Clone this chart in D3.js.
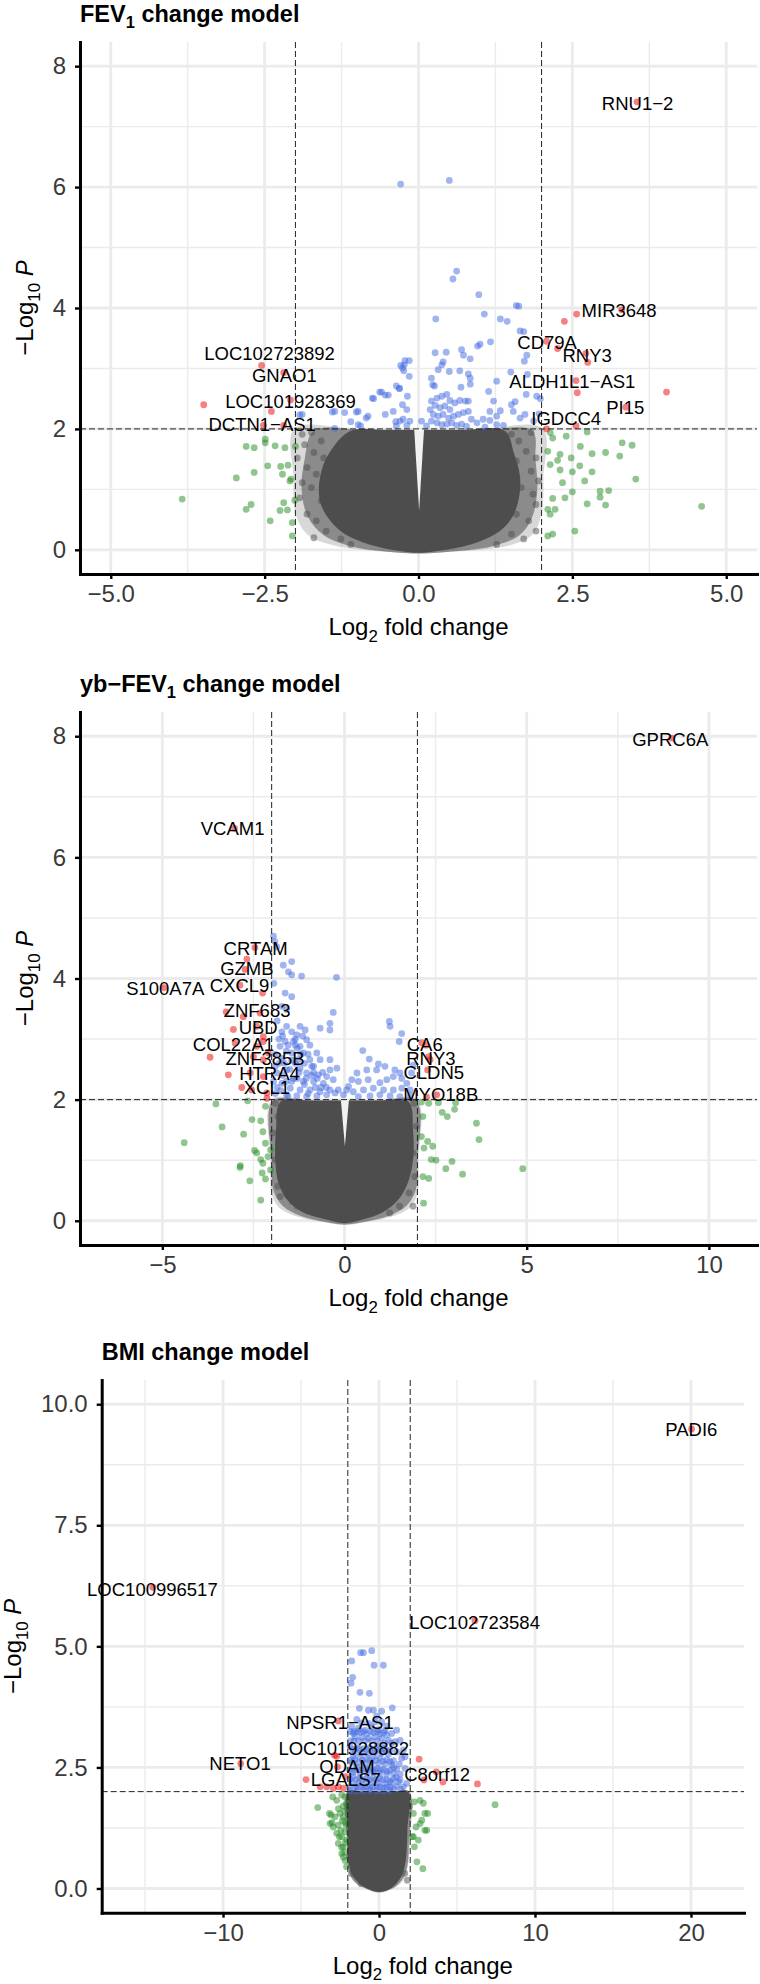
<!DOCTYPE html>
<html><head><meta charset="utf-8">
<script src="https://cdn.jsdelivr.net/npm/d3@7"></script>
<style>body{margin:0;background:#fff}</style>
</head><body>
<svg id="c" width="760" height="1984" xmlns="http://www.w3.org/2000/svg"></svg>
<script>
// ---------------- DATA (log2 fold change, -log10 P) ----------------
// Panel 1: FEV1 change model
const fev_xticks = [-5, -2.5, 0, 2.5, 5];
const fev_xtick_labels = ["−5.0", "−2.5", "0.0", "2.5", "5.0"];
const fev_yticks = [0, 2, 4, 6, 8];
const fev_ytick_labels = ["0", "2", "4", "6", "8"];
// outlines of the dense cloud of non-significant genes (core = overplotted, mid/halo = sparser edge)
const fev_gray_core = [[-1.1,1.97],[-1.45,1.6],[-1.6,1.2],[-1.6,0.8],[-1.45,0.5],[-1.2,0.26],[-0.8,0.09],[-0.3,-0.02],[0,-0.05],[0.3,-0.02],[0.85,0.09],[1.25,0.26],[1.5,0.5],[1.62,0.8],[1.65,1.2],[1.55,1.6],[1.4,1.97],[0.7,1.98],[0,1.98],[-0.5,1.98]];
const fev_gray_mid = [[-1.7,1.97],[-1.85,1.5],[-1.9,1.0],[-1.8,0.55],[-1.55,0.25],[-1.1,0.06],[-0.5,-0.03],[0,-0.06],[0.5,-0.03],[1.2,0.06],[1.65,0.25],[1.85,0.55],[1.93,1.0],[1.9,1.5],[1.85,1.97],[1.0,1.98],[0,1.98],[-0.9,1.98]];
const fev_gray_halo = [[-2.02,2.0],[-2.03,1.2],[-2.0,0.6],[-1.8,0.25],[-1.4,0.08],[-0.9,0.0],[-0.4,-0.04],[0,-0.06],[0.4,-0.04],[1.0,0.0],[1.5,0.08],[1.85,0.25],[2.0,0.6],[2.03,1.2],[2.02,2.0],[1.0,2.0],[0,2.0],[-1.0,2.0]];
const fev_gray_gap = [[-0.07,2.0],[0.01,0.65],[0.09,2.0]];
const fev_gray = [[-1.89,1.91],[-1.74,1.94],[-1.85,1.74],[-1.58,1.80],[-1.70,1.61],[-1.54,1.52],[-1.97,1.52],[-1.81,1.36],[-1.66,1.25],[-1.89,1.11],[-1.74,1.03],[-1.93,0.86],[-1.58,0.81],[-1.81,0.59],[-1.66,0.48],[-1.70,0.20],[-1.50,0.31],[-1.26,0.18],[-1.10,0.09],[1.51,1.91],[1.63,1.80],[1.83,1.94],[1.75,1.63],[1.91,1.52],[1.59,1.47],[1.83,1.30],[1.95,1.14],[1.67,1.03],[1.86,0.92],[1.91,0.75],[1.59,0.59],[1.79,0.48],[1.91,0.31],[1.71,0.18],[1.51,0.26],[1.27,0.09]];
const fev_green = [[-2.49,1.83],[-2.49,1.77],[-2.80,1.71],[-2.67,1.69],[-2.33,1.72],[-2.17,1.69],[-2.00,1.71],[-2.45,1.39],[-2.24,1.38],[-2.12,1.40],[-2.67,1.28],[-2.96,1.19],[-2.21,1.25],[-2.07,1.17],[-2.09,1.14],[-3.84,0.84],[-2.72,0.75],[-2.80,0.67],[-2.41,0.48],[-2.25,0.65],[-2.13,0.66],[-2.01,0.82],[-2.05,0.45],[-2.05,0.23],[-2.19,0.78],[2.14,1.94],[2.18,1.85],[2.40,1.88],[2.63,1.71],[2.74,1.95],[3.31,1.77],[3.47,1.73],[2.10,1.63],[2.30,1.58],[2.82,1.59],[3.04,1.61],[3.27,1.55],[2.48,1.52],[2.26,1.48],[2.14,1.41],[2.62,1.39],[2.30,1.32],[2.50,1.29],[2.82,1.29],[3.53,1.17],[2.70,1.14],[2.34,1.11],[2.95,0.97],[3.09,0.98],[2.50,0.96],[2.38,0.86],[2.18,0.85],[2.95,0.87],[2.74,0.76],[3.04,0.74],[2.22,0.67],[2.10,0.67],[4.60,0.72],[2.54,0.31],[2.18,0.26],[2.10,0.23],[2.14,0.59]];
const fev_blue = [[0.62,4.61],[0.56,4.48],[0.98,4.22],[1.59,4.04],[0.28,3.82],[1.07,3.90],[1.33,3.82],[1.44,3.78],[1.65,3.62],[1.17,3.44],[1.00,3.40],[0.96,3.37],[0.70,3.31],[0.45,3.27],[0.27,3.26],[0.73,3.22],[0.84,3.16],[0.40,3.11],[0.38,3.06],[0.32,2.98],[0.50,2.95],[0.67,2.96],[0.81,2.91],[0.84,2.84],[0.21,2.84],[0.23,2.73],[0.26,2.71],[0.69,2.69],[0.84,2.74],[1.27,2.79],[1.50,2.94],[1.76,3.22],[1.72,3.12],[1.77,2.90],[1.92,2.54],[1.75,2.57],[1.57,2.45],[1.51,2.40],[1.14,2.62],[1.22,2.46],[-0.22,3.13],[-0.29,3.05],[-0.24,2.96],[-0.15,2.87],[-0.36,2.71],[-0.31,2.67],[-0.63,2.61],[-0.54,2.56],[-0.75,2.51],[-0.18,2.54],[-0.26,2.40],[-0.19,2.32],[-0.41,2.29],[-0.54,2.24],[-1.01,2.28],[-0.85,2.18],[-1.40,2.28],[-1.93,2.23],[-0.98,2.07],[-1.36,2.01],[-0.37,2.12],[-0.25,2.16],[-0.14,2.13],[0.21,2.46],[0.30,2.51],[0.38,2.54],[0.46,2.57],[0.51,2.47],[0.27,2.39],[0.35,2.35],[0.43,2.38],[0.51,2.32],[0.59,2.43],[0.67,2.47],[0.76,2.46],[0.81,2.46],[0.19,2.32],[0.24,2.24],[0.32,2.21],[0.40,2.24],[0.49,2.18],[0.57,2.21],[0.65,2.24],[0.73,2.27],[0.81,2.29],[0.21,2.13],[0.30,2.10],[0.38,2.07],[0.46,2.08],[0.54,2.10],[0.62,2.06],[0.70,2.08],[0.78,2.04],[0.86,2.16],[0.95,2.10],[1.05,2.16],[1.16,2.29],[1.27,2.21],[1.33,2.30],[1.38,2.06],[1.16,2.14],[1.27,2.07],[1.08,2.03],[0.13,2.05],[0.05,2.13],[-0.30,2.13],[-0.19,2.06],[-0.36,2.05],[1.54,2.29],[1.65,2.18],[1.73,2.24],[1.87,2.13],[-0.29,6.05],[0.50,6.11],[-0.73,2.50],[-0.60,2.61],[-0.49,2.56],[-0.31,2.67],[-0.23,3.06],[-0.15,3.13],[-0.26,3.01],[-0.82,2.21],[-0.94,2.05],[-1.36,2.29],[-1.20,2.27],[-1.10,2.12],[-1.89,2.24],[-0.98,2.29],[1.71,3.61],[1.63,4.03],[1.98,2.50],[1.96,2.25]];
const fev_red = [[3.55,7.41],[2.37,3.78],[2.57,3.90],[3.30,3.97],[-2.55,3.05],[-2.19,2.93],[-3.49,2.40],[-2.39,2.29],[-2.08,2.48],[-2.52,2.06],[-2.19,2.06],[2.08,3.45],[2.26,3.33],[2.75,3.10],[2.72,3.25],[2.56,2.80],[2.58,2.60],[4.03,2.61],[3.37,2.36],[2.08,2.00],[2.56,2.05]];
const fev_labels = [["RNU1−2",3.56,7.38],["MIR3648",3.26,3.96],["LOC102723892",-2.42,3.25],["GNAO1",-2.18,2.89],["LOC101928369",-2.08,2.46],["DCTN1−AS1",-2.54,2.07],["CD79A",2.09,3.44],["RNY3",2.74,3.21],["ALDH1L1−AS1",2.50,2.79],["PI15",3.36,2.36],["IGDCC4",2.40,2.17]];

// Panel 2: yb-FEV1 change model
const yb_xticks = [-5, 0, 5, 10];
const yb_xtick_labels = ["−5", "0", "5", "10"];
const yb_yticks = [0, 2, 4, 6, 8];
const yb_ytick_labels = ["0", "2", "4", "6", "8"];
const yb_gray_core = [[-1.75,1.97],[-1.88,1.5],[-1.9,1.0],[-1.8,0.6],[-1.55,0.33],[-1.15,0.14],[-0.5,0.02],[0,-0.04],[0.5,0.02],[1.05,0.14],[1.45,0.33],[1.72,0.6],[1.88,1.0],[1.88,1.5],[1.75,1.97],[0.9,1.98],[0,1.98],[-0.9,1.98]];
const yb_gray_mid = [[-1.97,1.98],[-2.0,1.0],[-1.95,0.5],[-1.7,0.25],[-1.2,0.08],[-0.5,-0.02],[0,-0.06],[0.5,-0.02],[1.2,0.08],[1.7,0.25],[1.95,0.5],[2.0,1.0],[1.97,1.98],[1.0,1.99],[0,1.99],[-1.0,1.99]];
const yb_gray_halo = [[-2.0,2.0],[-2.03,1.0],[-2.0,0.45],[-1.8,0.22],[-1.3,0.07],[-0.6,-0.02],[0,-0.07],[0.6,-0.02],[1.3,0.07],[1.8,0.22],[2.0,0.45],[2.03,1.0],[2.0,2.0],[1.0,2.0],[0,2.0],[-1.0,2.0]];
const yb_gray_gap = [[-0.1,2.0],[0.01,1.23],[0.12,2.0]];
const yb_gray = [[-1.90,1.94],[-1.70,1.86],[-1.83,1.72],[-1.57,1.78],[-1.97,1.45],[-1.77,1.34],[-1.90,1.01],[-1.70,0.79],[-1.83,0.57],[-1.57,0.43],[-1.30,0.24],[-1.77,0.40],[-1.43,0.32],[1.91,1.94],[1.77,1.78],[1.97,1.56],[1.71,1.45],[1.88,1.12],[1.64,0.90],[1.93,0.73],[1.77,0.46],[1.51,0.24],[1.24,0.13],[1.88,0.24]];
const yb_green = [[-3.53,1.93],[-2.66,1.98],[-2.17,1.89],[-3.36,1.55],[-2.77,1.43],[-4.40,1.29],[-2.54,1.67],[-2.30,1.65],[-2.24,1.47],[-2.47,1.16],[-2.41,1.12],[-2.17,1.28],[-2.03,1.17],[-2.30,1.01],[-2.24,0.95],[-2.86,0.91],[-2.87,0.88],[-2.26,0.79],[-2.60,0.66],[-2.17,0.69],[-2.30,0.34],[-2.10,1.06],[-2.03,0.84],[2.11,1.96],[2.31,1.94],[2.58,1.95],[3.05,1.95],[2.68,1.79],[2.82,1.72],[3.02,1.84],[3.62,1.61],[3.69,1.34],[2.15,1.72],[2.11,1.39],[2.28,1.31],[2.42,1.23],[2.18,1.20],[2.38,1.01],[2.51,1.00],[2.95,0.98],[2.78,0.86],[3.24,0.77],[4.89,0.86],[2.15,0.73],[2.31,0.70],[2.17,0.29]];
const yb_blue = [[-1.95,4.70],[-1.91,4.61],[-1.86,4.52],[-1.68,4.22],[-1.45,4.28],[-1.54,4.11],[-1.45,4.06],[-1.18,4.04],[-0.22,4.02],[-1.94,3.92],[-1.63,3.76],[-1.45,3.70],[-1.72,3.54],[-1.59,3.49],[-0.31,3.44],[-0.40,3.26],[-0.67,3.18],[-0.40,3.15],[-1.72,3.12],[-1.59,3.21],[-1.45,3.12],[-1.22,3.21],[-1.08,3.15],[-1.31,3.07],[-1.04,2.99],[-1.40,2.96],[-1.63,2.96],[-1.77,2.88],[-1.22,2.88],[-0.95,2.90],[-1.13,2.77],[-0.76,2.77],[-1.45,2.77],[-1.72,2.68],[-1.27,2.66],[-0.95,2.66],[-0.67,2.66],[-0.40,2.66],[-0.21,2.52],[-0.40,2.49],[-0.85,2.55],[-1.22,2.52],[-1.59,2.49],[-1.86,2.44],[-1.04,2.44],[-0.72,2.41],[-0.49,2.38],[-1.40,2.35],[-1.13,2.30],[-0.85,2.30],[-0.58,2.27],[-0.31,2.33],[-1.72,2.27],[-1.49,2.19],[-1.22,2.16],[-0.95,2.16],[-0.67,2.13],[-0.40,2.16],[-0.17,2.16],[-1.59,2.08],[-1.31,2.06],[-1.04,2.05],[-0.76,2.06],[-0.49,2.08],[-0.26,2.11],[-0.03,2.08],[0.06,2.16],[-1.85,2.2],[-1.8,2.6],[-1.5,2.5],[-1.35,2.6],[-1.55,2.9],[-1.3,2.85],[-1.1,2.6],[-0.9,2.4],[-1.7,2.4],[-1.9,2.1],[-1.6,2.3],[-1.3,2.35],[-1.1,2.25],[-0.8,2.2],[-0.6,2.45],[-1.0,2.75],[-1.35,3.0],[-1.8,3.0],[-1.85,3.3],[-1.9,2.75],[-1.95,2.3],[-1.75,2.15],[-1.45,2.3],[-1.25,2.45],[-1.05,2.35],[-0.85,2.45],[-0.65,2.2],[-1.65,2.6],[-1.45,2.65],[-1.2,2.75],[-0.9,2.55],[-1.6,2.8],[-1.35,2.9],[-1.15,3.05],[-1.7,3.05],[-0.75,2.35],[-0.5,2.2],[-1.9,2.55],[-1.0,2.1],[-1.55,2.05],[1.23,3.29],[1.25,3.21],[1.57,3.09],[1.50,2.96],[0.50,2.81],[0.68,2.67],[0.93,2.59],[0.34,2.44],[0.61,2.49],[0.88,2.49],[1.11,2.55],[1.38,2.49],[1.52,2.44],[1.34,2.38],[1.57,2.35],[1.16,2.33],[0.97,2.28],[0.65,2.33],[0.38,2.30],[0.20,2.33],[0.11,2.22],[0.24,2.13],[0.52,2.16],[0.79,2.19],[1.07,2.16],[1.34,2.16],[1.57,2.19],[1.80,2.16],[1.71,2.27],[1.84,2.44],[1.89,2.57],[0.38,2.05],[0.70,2.06],[0.97,2.08],[1.25,2.06],[1.52,2.05],[1.80,2.06]];
const yb_red = [[8.98,7.97],[-3.02,6.48],[-2.46,4.51],[-2.68,4.32],[-2.73,4.15],[-2.87,3.89],[-2.25,3.76],[-4.95,3.85],[-3.25,3.45],[-2.78,3.37],[-2.32,3.43],[-3.05,3.16],[-2.41,3.21],[-2.23,3.04],[-3.00,2.93],[-2.41,2.88],[-2.23,2.96],[-3.69,2.70],[-2.50,2.71],[-2.23,2.66],[-2.09,2.77],[-3.19,2.41],[-2.59,2.44],[-2.23,2.38],[-2.82,2.20],[-2.55,2.16],[-2.13,2.11],[-2.13,2.02],[2.12,2.94],[2.24,2.90],[2.31,2.71],[2.35,2.66],[2.28,2.49],[2.25,2.04],[2.53,2.08]];
const yb_labels = [["GPRC6A",8.94,7.95],["VCAM1",-3.07,6.48],["CRTAM",-2.44,4.49],["GZMB",-2.68,4.16],["CXCL9",-2.88,3.89],["S100A7A",-4.92,3.83],["ZNF683",-2.40,3.47],["UBD",-2.37,3.19],["COL22A1",-3.05,2.92],["ZNF385B",-2.18,2.68],["HTRA4",-2.06,2.44],["XCL1",-2.13,2.20],["CA6",2.20,2.92],["RNY3",2.37,2.68],["CLDN5",2.45,2.45],["MYO18B",2.64,2.08]];

// Panel 3: BMI change model
const bmi_xticks = [-10, 0, 10, 20];
const bmi_xtick_labels = ["−10", "0", "10", "20"];
const bmi_yticks = [0, 2.5, 5, 7.5, 10];
const bmi_ytick_labels = ["0.0", "2.5", "5.0", "7.5", "10.0"];
const bmi_gray_core = [[-1.97,2.0],[-2.0,1.2],[-1.97,0.6],[-1.75,0.3],[-1.25,0.1],[-0.6,-0.02],[0,-0.07],[0.6,-0.02],[1.1,0.1],[1.5,0.3],[1.72,0.6],[1.82,1.2],[1.85,2.0],[0.9,2.0],[0,2.0],[-1.0,2.0]];
const bmi_gray_mid = [[-2.02,2.0],[-2.05,1.0],[-1.98,0.45],[-1.65,0.17],[-0.9,0.01],[0,-0.08],[0.9,0.01],[1.45,0.17],[1.8,0.45],[1.92,1.0],[1.92,2.0],[0.9,2.0],[0,2.0],[-1.0,2.0]];
const bmi_gray_halo = [[-2.05,2.0],[-2.08,1.0],[-2.0,0.45],[-1.65,0.15],[-0.9,0.0],[0,-0.09],[0.9,0.0],[1.5,0.15],[1.85,0.45],[1.97,1.0],[1.97,2.0],[0.9,2.0],[0,2.0],[-1.0,2.0]];
const bmi_gray_gap = [];
const bmi_gray = [[-1.92,0.65],[-1.77,0.31],[-1.15,0.10],[1.81,0.17],[1.65,0.31],[1.96,1.69]];
const bmi_green = [[-3.93,1.67],[-2.97,1.89],[-2.71,1.82],[-2.39,1.93],[-2.18,1.89],[-3.18,1.55],[-2.82,1.48],[-2.50,1.55],[-2.29,1.48],[-3.14,1.34],[-2.93,1.27],[-2.61,1.31],[-2.18,1.36],[-2.71,1.14],[-2.39,1.07],[-2.18,1.17],[-2.61,0.93],[-2.29,0.86],[-2.07,1.00],[-2.29,0.65],[-2.17,0.58],[-2.08,0.45],[-3.07,1.52],[-3.01,1.36],[-2.54,1.07],[-2.39,0.72],[-2.1,1.75],[-2.2,1.6],[-2.35,1.4],[-2.1,1.3],[-2.45,1.2],[-2.15,0.95],[-2.4,0.85],[-2.2,0.75],[-2.3,1.7],[-2.6,1.65],[2.26,1.79],[2.63,1.82],[2.84,1.76],[3.12,1.55],[2.74,1.41],[2.63,1.34],[3.06,1.20],[2.37,1.27],[2.20,1.07],[2.52,1.00],[7.44,1.73],[2.20,1.55],[2.43,0.55],[2.81,0.41],[2.12,1.07],[2.27,0.86],[2.94,1.20],[2.94,1.55]];
const bmi_blue = [[-1.18,4.87],[-1.00,4.87],[-0.47,4.91],[-1.75,4.70],[-0.32,4.61],[0.28,4.61],[-1.69,4.36],[-1.79,4.24],[-1.22,4.05],[-0.62,4.03],[-1.26,3.72],[-0.68,3.68],[-0.36,3.68],[0.17,3.66],[0.85,3.73],[-1.75,3.34],[-1.32,3.31],[-0.90,3.27],[-0.47,3.33],[-0.04,3.28],[0.38,3.26],[0.81,3.20],[-1.54,3.13],[-1.11,3.12],[-0.68,3.10],[-0.26,3.13],[0.17,3.10],[0.60,3.06],[1.03,3.03],[-1.86,2.93],[-1.43,2.91],[-1.00,2.89],[-0.58,2.91],[-0.15,2.93],[0.28,2.89],[0.71,2.86],[1.13,2.82],[1.45,2.69],[-1.65,2.72],[-1.22,2.71],[-0.79,2.69],[-0.36,2.72],[0.06,2.69],[0.49,2.66],[0.92,2.64],[-1.43,2.51],[-1.00,2.48],[-0.58,2.50],[-0.15,2.48],[0.28,2.46],[0.71,2.44],[1.13,2.46],[1.67,2.48],[-1.65,2.31],[-1.22,2.29],[-0.79,2.27],[-0.36,2.31],[0.06,2.27],[0.49,2.25],[0.92,2.27],[1.35,2.24],[1.77,2.17],[-1.43,2.10],[-1.00,2.09],[-0.58,2.07],[-0.15,2.10],[0.28,2.07],[0.71,2.09],[1.13,2.11],[1.56,2.10],[-1.54,2.81],[-1.11,2.80],[-0.68,2.79],[-0.26,2.81],[0.17,2.79],[0.60,2.77],[-1.75,2.60],[-1.32,2.60],[-0.90,2.58],[-0.47,2.60],[-0.04,2.58],[0.38,2.57],[0.81,2.55],[-1.65,2.40],[-1.22,2.39],[-0.79,2.38],[-0.36,2.40],[0.06,2.38],[0.49,2.36],[0.92,2.38],[1.35,2.36],[-1.75,2.19],[-1.32,2.18],[-0.90,2.17],[-0.47,2.19],[-0.04,2.17],[0.38,2.16],[0.81,2.18],[1.24,2.20],[-1.86,2.02],[-1.43,2.01],[-1.00,2.02],[-0.58,2.03],[-0.15,2.02],[0.28,2.01],[0.71,2.03],[-1.65,3.20],[-1.22,3.22],[-0.79,3.19],[-0.36,3.22],[0.06,3.19],[0.49,3.17],[0.17,3.44],[-0.26,3.44],[-0.68,3.41],[-1.11,3.42],[-1.43,3.49],[-0.15,3.56],[0.49,3.35],[1.13,3.27],[1.35,3.06],[1.56,2.86],[1.67,2.72],[1.30,2.57],[-1.85,3.24],[-1.6,3.24],[-1.4,3.24],[-1.0,3.24],[-0.55,3.24],[-0.1,3.24],[0.3,3.22],[-1.85,3.05],[-1.6,3.05],[-1.3,3.05],[-0.9,3.05],[-0.5,3.05],[-0.1,3.05],[0.35,3.0],[0.8,3.0],[-1.7,2.87],[-1.25,2.87],[-0.8,2.87],[-0.4,2.87],[0.05,2.87],[0.45,2.85],[-1.85,2.65],[-1.55,2.66],[-1.05,2.65],[-0.6,2.65],[-0.2,2.65],[0.25,2.63],[0.7,2.62],[-1.9,2.45],[-1.55,2.45],[-1.15,2.45],[-0.7,2.45],[-0.3,2.45],[0.1,2.45],[0.5,2.42],[0.95,2.5],[-1.85,2.26],[-1.45,2.25],[-1.05,2.25],[-0.6,2.25],[-0.2,2.25],[0.25,2.25],[0.7,2.22],[1.1,2.3],[-1.9,2.1],[-1.55,2.1],[-1.2,2.1],[-0.8,2.1],[-0.4,2.1],[0.05,2.1],[0.5,2.1],[0.95,2.05],[1.4,2.05]];
const bmi_red = [[20.04,9.49],[6.15,5.53],[-14.51,6.22],[-2.61,3.46],[-2.71,2.73],[-8.87,2.58],[-2.67,2.51],[-4.68,2.25],[-3.78,2.10],[-3.35,2.10],[-2.93,2.07],[-2.61,2.10],[-2.29,2.07],[-2.14,2.31],[2.57,2.67],[2.88,2.24],[3.67,2.41],[4.10,2.20],[6.31,2.16],[-2.85,2.75]];
const bmi_labels = [["PADI6",20.02,9.49],["LOC100996517",-14.53,6.18],["LOC102723584",6.13,5.49],["NPSR1−AS1",-2.50,3.44],["LOC101928882",-2.26,2.89],["NETO1",-8.91,2.58],["ODAM",-2.05,2.53],["LGALS7",-2.13,2.25],["C8orf12",3.72,2.36]];

// ---------------- DRAWING ----------------
const FONT = '"Liberation Sans", Arial, Helvetica, sans-serif';
const svg = d3.select('#c');
const COL = {gray: '#4d4d4d', green: '#228b22', blue: '#4169e1', red: '#ee0000'};

function rich(sel, parts, fs) {
  let shift = 0;
  parts.forEach(p => {
    const t = sel.append('tspan').text(p.t);
    if (p.sub) { t.attr('font-size', fs * 0.7).attr('dy', fs * 0.28); shift = fs * 0.28; }
    else if (shift) { t.attr('dy', -shift); shift = 0; }
    if (p.it) t.attr('font-style', 'italic');
  });
}

function panel(o) {
  const x = d3.scaleLinear().domain(o.xdom).range([o.l, o.r]);
  const y = d3.scaleLinear().domain(o.ydom).range([o.b, o.t]);
  const g = svg.append('g');

  // grid
  const vline = (vals, w) => g.append('g').selectAll('line').data(vals).join('line')
    .attr('x1', d => x(d)).attr('x2', d => x(d)).attr('y1', o.t).attr('y2', o.b)
    .attr('stroke', '#ebebeb').attr('stroke-width', w);
  const hline = (vals, w) => g.append('g').selectAll('line').data(vals).join('line')
    .attr('y1', d => y(d)).attr('y2', d => y(d)).attr('x1', o.l).attr('x2', o.r)
    .attr('stroke', '#ebebeb').attr('stroke-width', w);
  vline(o.xminor, 1.4); hline(o.yminor, 1.4);
  vline(o.xticks, 2.8); hline(o.yticks, 2.8);

  // dense cloud of non-significant genes
  const smooth = d3.line().x(d => x(d[0])).y(d => y(d[1])).curve(d3.curveCatmullRomClosed.alpha(0.5));
  const straight = d3.line().x(d => x(d[0])).y(d => y(d[1]));
  g.append('path').attr('d', smooth(o.halo)).attr('fill', COL.gray).attr('fill-opacity', 0.22);
  g.append('path').attr('d', smooth(o.mid)).attr('fill', COL.gray).attr('fill-opacity', 0.55);
  g.append('path').attr('d', smooth(o.core)).attr('fill', COL.gray);
  if (o.gap.length) g.append('path').attr('d', straight(o.gap) + 'Z').attr('fill', '#fff').attr('fill-opacity', 0.92);

  const pts = (data, c) => g.append('g').selectAll('circle').data(data).join('circle')
    .attr('cx', d => x(d[0])).attr('cy', d => y(d[1])).attr('r', 3.4)
    .attr('fill', c).attr('fill-opacity', 0.5);
  pts(o.gray, COL.gray);
  pts(o.green, COL.green);
  pts(o.blue, COL.blue);
  pts(o.red, COL.red);

  // cutoff lines
  const dash = {stroke: '#222', w: 1, da: '6,3'};
  [-2, 2].forEach(v => g.append('line').attr('x1', x(v)).attr('x2', x(v)).attr('y1', o.t).attr('y2', o.b)
    .attr('stroke', dash.stroke).attr('stroke-width', dash.w).attr('stroke-dasharray', dash.da));
  g.append('line').attr('x1', o.l).attr('x2', o.r).attr('y1', y(2)).attr('y2', y(2))
    .attr('stroke', dash.stroke).attr('stroke-width', dash.w).attr('stroke-dasharray', dash.da);

  // gene labels
  g.append('g').selectAll('text').data(o.labels).join('text')
    .attr('x', d => x(d[1])).attr('y', d => y(d[2])).attr('dy', '0.36em')
    .attr('text-anchor', 'middle').attr('font-family', FONT).attr('font-size', 18.5)
    .attr('fill', '#000').text(d => d[0]);

  // axes
  const ax = g.append('g').attr('transform', `translate(0,${o.b})`)
    .call(d3.axisBottom(x).tickValues(o.xticks).tickFormat((d, i) => o.xlabels[i]).tickSize(5).tickSizeOuter(0).tickPadding(6));
  const ay = g.append('g').attr('transform', `translate(${o.l},0)`)
    .call(d3.axisLeft(y).tickValues(o.yticks).tickFormat((d, i) => o.ylabels[i]).tickSize(5).tickSizeOuter(0).tickPadding(9));
  [ax, ay].forEach(a => {
    a.attr('font-family', FONT).attr('font-size', 24);
    a.select('.domain').attr('stroke', '#000').attr('stroke-width', 3).attr('stroke-linecap', 'square');
    a.selectAll('.tick line').attr('stroke', '#000').attr('stroke-width', 2.4);
    a.selectAll('.tick text').attr('fill', '#3a3a3a');
  });
  ax.selectAll('.tick text').attr('dy', '0.72em');

  // title
  const tt = svg.append('text').attr('x', o.l).attr('y', o.t - 20.5)
    .attr('font-family', FONT).attr('font-size', 23.5).attr('font-weight', 'bold').attr('fill', '#000');
  rich(tt, o.title, 23.5);

  // x title
  const xt = svg.append('text').attr('x', (o.l + o.r) / 2).attr('y', o.b + 61)
    .attr('text-anchor', 'middle').attr('font-family', FONT).attr('font-size', 24).attr('fill', '#000');
  rich(xt, [{t: 'Log'}, {t: '2', sub: true}, {t: ' fold change'}], 24);

  // y title
  const cy = (o.t + o.b) / 2;
  const yt = svg.append('text').attr('x', o.ytx).attr('y', cy)
    .attr('transform', `rotate(-90,${o.ytx},${cy})`)
    .attr('text-anchor', 'middle').attr('font-family', FONT).attr('font-size', 24).attr('fill', '#000');
  rich(yt, [{t: '−Log'}, {t: '10', sub: true}, {t: ' '}, {t: 'P', it: true}], 24);
}

panel({
  l: 80, r: 757, t: 42, b: 574, xdom: [-5.5, 5.5], ydom: [-0.4, 8.4], ytx: 33,
  xticks: fev_xticks, xlabels: fev_xtick_labels, xminor: [-3.75, -1.25, 1.25, 3.75],
  yticks: fev_yticks, ylabels: fev_ytick_labels, yminor: [1, 3, 5, 7],
  core: fev_gray_core, mid: fev_gray_mid, halo: fev_gray_halo, gap: fev_gray_gap,
  gray: fev_gray, green: fev_green, blue: fev_blue, red: fev_red,
  labels: fev_labels, title: [{t: 'FEV'}, {t: '1', sub: true}, {t: ' change model'}]
});
panel({
  l: 80, r: 757, t: 712, b: 1245, xdom: [-7.26, 11.32], ydom: [-0.4, 8.4], ytx: 33,
  xticks: yb_xticks, xlabels: yb_xtick_labels, xminor: [-2.5, 2.5, 7.5],
  yticks: yb_yticks, ylabels: yb_ytick_labels, yminor: [1, 3, 5, 7],
  core: yb_gray_core, mid: yb_gray_mid, halo: yb_gray_halo, gap: yb_gray_gap,
  gray: yb_gray, green: yb_green, blue: yb_blue, red: yb_red,
  labels: yb_labels, title: [{t: 'yb−FEV'}, {t: '1', sub: true}, {t: ' change model'}]
});
panel({
  l: 101.7, r: 744, t: 1380, b: 1912.7, xdom: [-17.78, 23.4], ydom: [-0.5, 10.5], ytx: 21,
  xticks: bmi_xticks, xlabels: bmi_xtick_labels, xminor: [-15, -5, 5, 15],
  yticks: bmi_yticks, ylabels: bmi_ytick_labels, yminor: [1.25, 3.75, 6.25, 8.75],
  core: bmi_gray_core, mid: bmi_gray_mid, halo: bmi_gray_halo, gap: bmi_gray_gap,
  gray: bmi_gray, green: bmi_green, blue: bmi_blue, red: bmi_red,
  labels: bmi_labels, title: [{t: 'BMI change model'}]
});
</script>
</body></html>
